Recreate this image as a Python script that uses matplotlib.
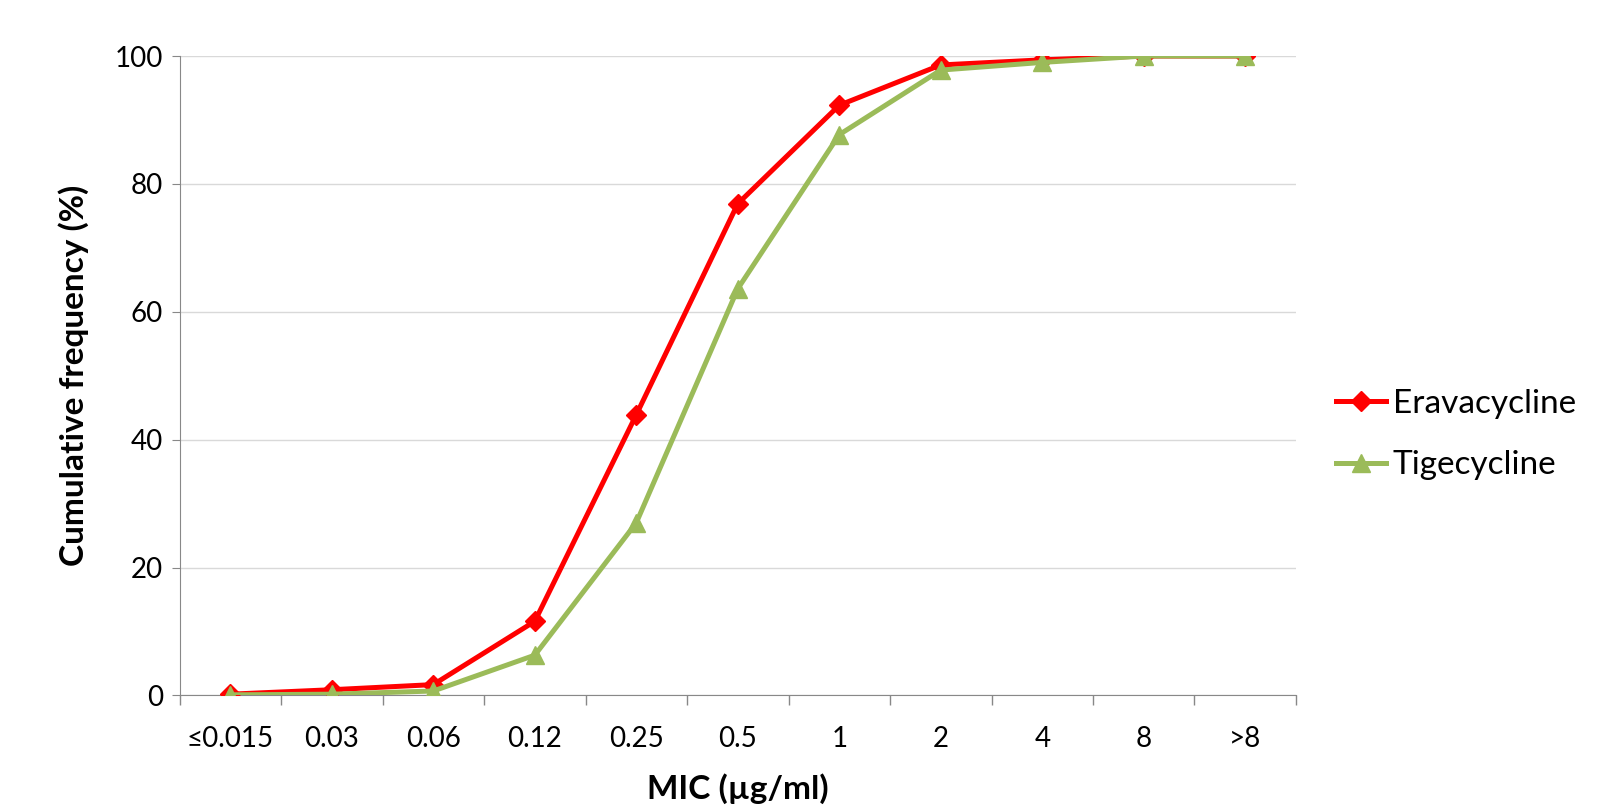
import matplotlib.pyplot as plt
from matplotlib.ticker import FixedLocator

# MIC categories and cumulative frequencies (%)
mic_labels = ['≤0.015', '0.03', '0.06', '0.12', '0.25', '0.5', '1', '2', '4', '8', '>8']
eravacycline = [0.2, 0.9, 1.7, 11.6, 43.9, 76.9, 92.3, 98.6, 99.4, 100, 100]
tigecycline = [0.1, 0.2, 0.7, 6.3, 27.0, 63.6, 87.7, 97.8, 99.0, 100, 100]
y_ticks = [0, 20, 40, 60, 80, 100]

plt.rcParams['font.family'] = ['Lato', 'DejaVu Sans']

fig = plt.figure(figsize=(15.99, 8.07), dpi=100)
ax = fig.add_axes([0.1123, 0.1382, 0.6982, 0.7924])

x = list(range(len(mic_labels)))
ax.plot(x, eravacycline, color='#FF0000', lw=3.6, marker='D', markersize=10,
        label='Eravacycline', zorder=3)
ax.plot(x, tigecycline, color='#9BBB59', lw=3.6, marker='^', markersize=12.5,
        label='Tigecycline', zorder=4)

ax.set_xlim(-0.5, len(mic_labels) - 0.5)
ax.set_ylim(0, 100)
ax.set_xticks(x)
ax.set_xticklabels(mic_labels, fontsize=20)
ax.xaxis.set_minor_locator(FixedLocator([i - 0.5 for i in range(len(mic_labels) + 1)]))
ax.tick_params(axis='x', which='major', length=0, pad=22)
ax.tick_params(axis='x', which='minor', length=7, color='#888888', width=1)
ax.set_yticks(y_ticks)
ax.tick_params(axis='y', labelsize=20, length=6, color='#888888', pad=6)

ax.grid(axis='y', color='#D9D9D9', lw=1)
ax.set_axisbelow(True)
for side in ['top', 'right']:
    ax.spines[side].set_visible(False)
ax.spines['left'].set_color('#888888')
ax.spines['bottom'].set_color('#888888')

ax.set_xlabel('MIC (µg/ml)', fontsize=24, fontweight='bold', va='center')
ax.set_ylabel('Cumulative frequency (%)', fontsize=24, fontweight='bold', va='center')
ax.xaxis.set_label_coords(0.5, -0.146)
ax.yaxis.set_label_coords(-0.095, 0.5)

fig.legend(*ax.get_legend_handles_labels(), loc='center left',
           bbox_to_anchor=(0.8355, 0.4616), bbox_transform=fig.transFigure,
           frameon=False, fontsize=24, handlelength=1.5, handletextpad=0.2,
           labelspacing=0.95, borderpad=0, borderaxespad=0)

fig.savefig('out.png', dpi=100)
